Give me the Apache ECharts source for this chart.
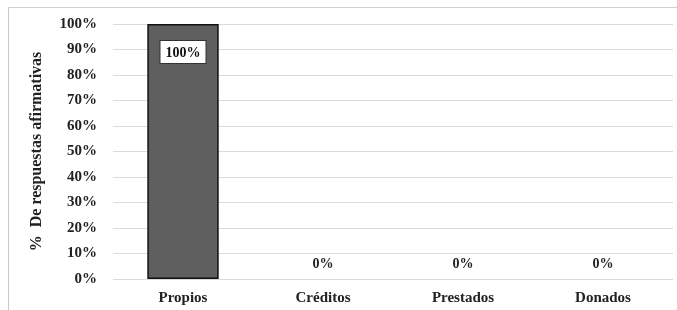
<!DOCTYPE html>
<html>
<head>
<meta charset="utf-8">
<script src="https://cdn.jsdelivr.net/npm/echarts@6/dist/echarts.min.js"></script>
<style>
  html, body { margin: 0; padding: 0; background: #fff; }
  #frame { position: absolute; left: 8px; top: 7px; width: 680px; height: 310px; border-left: 1px solid #c8c8c8; border-top: 1px solid #d0d0d0; }
  #chart { position: absolute; left: 0; top: 0; width: 677px; height: 310px; }
</style>
</head>
<body>
<div id="frame"></div>
<div id="chart"></div>
<script>
const categories = ['Propios', 'Créditos', 'Prestados', 'Donados']
const values = [100, 0, 0, 0]
const yTicks = [0, 10, 20, 30, 40, 50, 60, 70, 80, 90, 100]

const font = '"Liberation Serif", "Times New Roman", serif'
const chart = echarts.init(document.getElementById('chart'))

// full bar: label inside, white box; empty bars: no outline, label above
const barData = values.map((v) =>
  v >= 100
    ? {
        value: v,
        label: {
          position: 'insideTop',
          distance: 17,
          backgroundColor: '#fff',
          borderColor: '#333',
          borderWidth: 1,
          padding: [5, 5, 3, 5],
          color: '#111',
        },
      }
    : { value: v, itemStyle: { borderWidth: 0 } }
)

chart.setOption({
  animation: false,
  grid: { left: 113, right: 4, top: 24, bottom: 31 },
  xAxis: {
    type: 'category',
    data: categories,
    axisLine: { show: false },
    axisTick: { show: false },
    axisLabel: { fontFamily: font, fontWeight: 'bold', fontSize: 15, color: '#222', margin: 12 },
  },
  yAxis: {
    type: 'value',
    min: yTicks[0],
    max: yTicks[yTicks.length - 1],
    interval: 10,
    name: '%  De respuestas afirmativas',
    nameLocation: 'middle',
    nameRotate: 90,
    nameGap: 68,
    nameTextStyle: { fontFamily: font, fontWeight: 'bold', fontSize: 16, color: '#222' },
    axisLabel: {
      formatter: '{value}%',
      fontFamily: font,
      fontWeight: 'bold',
      fontSize: 15,
      color: '#222',
      margin: 16,
    },
    splitLine: { lineStyle: { color: '#dadada', width: 1 } },
  },
  series: [
    {
      type: 'bar',
      data: barData,
      barWidth: '51%',
      itemStyle: { color: '#5f5f5f', borderColor: '#111', borderWidth: 1.5 },
      label: {
        show: true,
        formatter: (p) => p.value + '%',
        fontFamily: font,
        fontWeight: 'bold',
        fontSize: 14,
        color: '#222',
        position: 'top',
        distance: 8,
      },
    },
  ],
})
</script>
</body>
</html>
